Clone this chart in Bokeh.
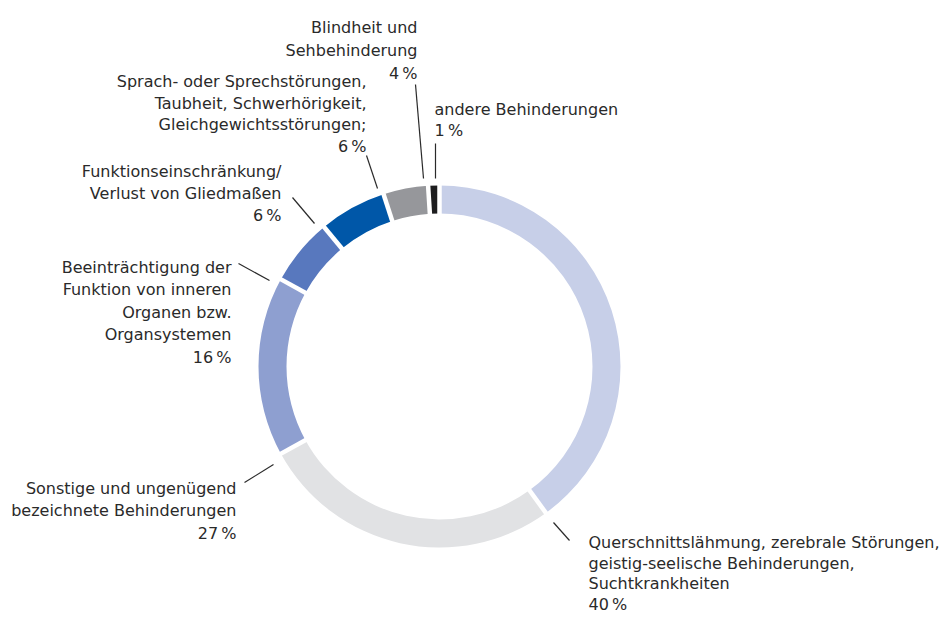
import math
from bokeh.plotting import figure
from bokeh.models import Range1d, ColumnDataSource
from bokeh.core.properties import value
from bokeh.embed import file_html
from bokeh.resources import INLINE

# ---- data ----
categories = [
    "Querschnittslähmung, zerebrale Störungen,\ngeistig-seelische Behinderungen,\nSuchtkrankheiten",
    "Sonstige und ungenügend\nbezeichnete Behinderungen",
    "Beeinträchtigung der\nFunktion von inneren\nOrganen bzw.\nOrgansystemen",
    "Funktionseinschränkung/\nVerlust von Gliedmaßen",
    "Sprach- oder Sprechstörungen,\nTaubheit, Schwerhörigkeit,\nGleichgewichtsstörungen;",
    "Blindheit und\nSehbehinderung",
    "andere Behinderungen",
]
values = [40, 27, 16, 6, 6, 4, 1]
colors = ["#c7cfe8", "#e1e2e4", "#8e9fd0", "#5878be", "#0057a8", "#96979b", "#1d1d1f"]

# ---- layout (pixel positions of labels / leader lines) ----
CX, CY = 439, 366
R_IN, R_OUT = 153, 181
label_x = [588, 236, 231, 281, 366, 417, 434]
label_y0 = [542, 488, 267, 171, 81, 27, 109]
label_align = ["left", "right", "right", "right", "right", "right", "left"]
line_h = [20.7, 22.3, 22.4, 22.0, 21.7, 23.0, 21.0]
leaders = [
    (553, 522, 569, 540),
    (244, 482, 273, 464),
    (238, 263, 269, 280),
    (292, 197, 314, 223),
    (366, 155, 377, 188),
    (415, 84, 423, 178),
    (435, 143, 435, 178),
]

FONT = "DejaVu Sans"
TXT = "#2a2a2a"

p = figure(width=944, height=614, x_range=Range1d(0, 944), y_range=Range1d(-614, 0),
           output_backend="svg", toolbar_location=None, min_border=0)
p.axis.visible = False
p.xgrid.visible = False
p.ygrid.visible = False
p.outline_line_color = None
p.background_fill_color = "white"

total = sum(values)
starts, ends = [], []
cum = 0.0
for v in values:
    starts.append(math.pi / 2 - 2 * math.pi * cum / total)
    cum += v
    ends.append(math.pi / 2 - 2 * math.pi * cum / total)

src = ColumnDataSource(dict(x=[CX] * len(values), y=[-CY] * len(values),
                            start=starts, end=ends, color=colors))
p.annular_wedge(x="x", y="y", inner_radius=R_IN, outer_radius=R_OUT,
                start_angle="start", end_angle="end", direction="clock",
                color="color", line_color=None, source=src)

# white separators between segments
sx0, sy0, sx1, sy1 = [], [], [], []
for a in starts:
    sx0.append(CX + (R_IN - 4) * math.cos(a)); sy0.append(-CY + (R_IN - 4) * math.sin(a))
    sx1.append(CX + (R_OUT + 4) * math.cos(a)); sy1.append(-CY + (R_OUT + 4) * math.sin(a))
p.segment(sx0, sy0, sx1, sy1, line_color="white", line_width=4.5)

# leader lines
p.segment([l[0] for l in leaders], [-l[1] for l in leaders],
          [l[2] for l in leaders], [-l[3] for l in leaders],
          line_color=TXT, line_width=1.2)

# labels
for i, cat in enumerate(categories):
    lines = cat.split("\n") + [f"{values[i]}\u2009%"]
    xs = [label_x[i]] * len(lines)
    ys = [-(label_y0[i] + k * line_h[i]) for k in range(len(lines))]
    p.text(x=xs, y=ys, text=lines, text_align=label_align[i], text_baseline="alphabetic",
           text_font=value(FONT), text_font_size="16px", text_color=TXT)

open("out.html", "w").write(file_html(p, INLINE))
